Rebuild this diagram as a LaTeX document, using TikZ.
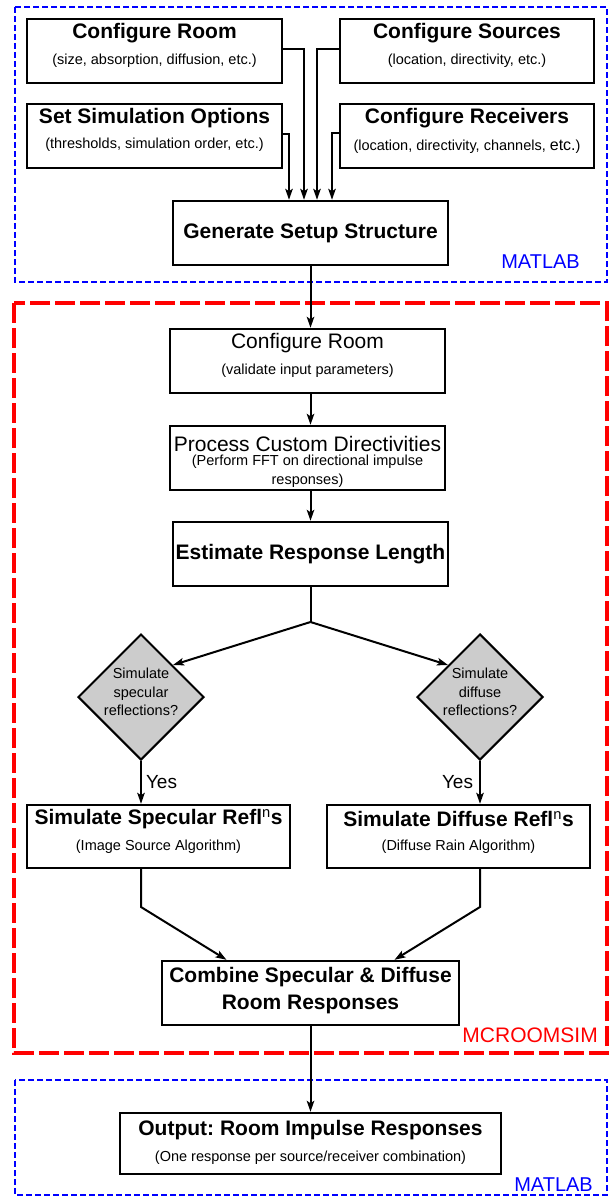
\documentclass[tikz,border=0pt]{standalone}
\usepackage{fontspec}
\setmainfont{Liberation Sans}
\usetikzlibrary{arrows.meta,shapes.geometric}
\frenchspacing
\newcommand{\ttl}{\fontsize{21}{27}\selectfont\bfseries}
\newcommand{\ttn}{\fontsize{21}{25}\selectfont}
\newcommand{\sbt}{\fontsize{14.5}{18.5}\selectfont}
\begin{document}
\begin{tikzpicture}[x=1pt,y=-1pt,
  box/.style={draw=black,line width=2.4pt,fill=white,inner sep=0pt,rectangle},
  dia/.style={draw=black,line width=2pt,fill=black!20,diamond,inner sep=0pt,minimum width=126pt,minimum height=126pt},
  conn/.style={line width=2pt},
  arr/.style={conn,-{Stealth[length=11pt,width=7.5pt,inset=2.5pt]}},
  lbl/.style={inner sep=0pt,anchor=center},
  blueframe/.style={draw=blue,line width=2pt,dash pattern=on 6pt off 3pt},
  redframe/.style={draw=red,line width=3.5pt,dash pattern=on 20pt off 5pt}]
\useasboundingbox (0,0) rectangle (612,1198);
% frames
\draw[blueframe] (15,7) rectangle (607,282);
\draw[redframe] (14,303) rectangle (607,1053);
\draw[blueframe] (15,1080) rectangle (607,1195);
\node[lbl,anchor=east,text=blue] (m1) at (580,262) {\fontsize{20}{24}\selectfont MATLAB};
\node[lbl,anchor=east,text=red] (m2) at (598,1035) {\fontsize{21}{25}\selectfont MCROOMSIM};
\node[lbl,anchor=east,text=blue] (m3) at (593,1185) {\fontsize{20}{24}\selectfont MATLAB};

% top boxes
\node[box,minimum width=255pt,minimum height=64pt] (cr) at (154.5,51) {};
\node[lbl] (crt) at (154.5,33) {\ttl Configure Room};
\node[lbl] (crs) at (154.5,61) {\sbt (size, absorption, diffusion, etc.)};
\node[box,minimum width=254pt,minimum height=64pt] (cs) at (467,51) {};
\node[lbl] (cst) at (467,33) {\ttl Configure Sources};
\node[lbl] (css) at (467,61) {\sbt (location, directivity, etc.)};
\node[box,minimum width=255pt,minimum height=64pt] (so) at (154.5,136) {};
\node[lbl] (sot) at (154.5,118) {\ttl Set Simulation Options};
\node[lbl] (sos) at (154.5,145) {\sbt (thresholds, simulation order, etc.)};
\node[box,minimum width=254pt,minimum height=64pt] (rc) at (467,136) {};
\node[lbl] (rct) at (467,118) {\ttl Configure Receivers};
\node[lbl] (rcs) at (467,147) {\sbt (location, directivity, channels, {\fontsize{16}{18}\selectfont etc.})};
\node[box,minimum width=275pt,minimum height=64pt] (gs) at (310.5,233) {\ttl Generate Setup Structure};

\draw[arr] ([yshift=2pt]so.east) -| ([xshift=-21.5pt]gs.north);
\draw[arr] ([yshift=2pt]cr.east) -| ([xshift=-6.5pt]gs.north);
\draw[arr] ([yshift=2pt]cs.west) -| ([xshift=6.5pt]gs.north);
\draw[arr] ([yshift=3pt]rc.west) -| ([xshift=21.5pt]gs.north);

% MCROOMSIM
\node[box,minimum width=275pt,minimum height=64pt] (cr2) at (307.5,361) {};
\node[lbl] (cr2t) at (307.5,343) {\ttn Configure Room};
\node[lbl] (cr2s) at (307.5,371) {\sbt (validate input parameters)};
\node[box,minimum width=275pt,minimum height=64pt] (pc) at (307.5,458) {};
\node[lbl] (pct) at (307.5,444) {\ttn Process Custom Directivities};
\node[lbl,align=center,font=\sbt] (pcs) at (307.5,471) {(Perform FFT on directional impulse\\responses)};
\node[box,minimum width=275pt,minimum height=64pt] (er) at (310.5,554) {\ttl Estimate Response Length};

\draw[arr] (gs.south) -- (gs.south |- cr2.north);
\draw[arr] (cr2.south -| gs.south) -- (gs.south |- pc.north);
\draw[arr] (pc.south -| gs.south) -- (gs.south |- er.north);

\node[dia] (ds) at (141,697) {};
\node[lbl,align=center,font=\sbt] (dst) at (141,692) {Simulate\\specular\\reflections?};
\node[dia] (dd) at (480,697) {};
\node[lbl,align=center,font=\sbt] (ddt) at (480,692) {Simulate\\diffuse\\reflections?};

\coordinate (split) at (310.5,622);
\draw[conn] (er.south) -- (split);
\draw[arr] (split) -- (ds.north east);
\draw[arr] (split) -- (dd.north west);

\node[box,minimum width=263pt,minimum height=63pt] (ss) at (158.5,836.5) {};
\node[lbl] (sst) at (158.5,819) {\ttl Simulate Specular Refl\textsuperscript{\mdseries n}s};
\node[lbl] (sss) at (158.5,847) {\sbt (Image Source Algorithm)};
\node[box,minimum width=263pt,minimum height=63pt] (sd) at (458.5,836.5) {};
\node[lbl] (sdt) at (458.5,819) {\ttl Simulate Diffuse Refl\textsuperscript{\mdseries n}s};
\node[lbl] (sds) at (458.5,847) {\sbt (Diffuse Rain Algorithm)};

\draw[arr] (ds.south) -- node[lbl,anchor=west,xshift=4pt] (y1) {\fontsize{19}{22}\selectfont Yes} (ds.south |- ss.north);
\draw[arr] (dd.south) -- node[lbl,anchor=east,xshift=-6pt] (y2) {\fontsize{19}{22}\selectfont Yes} (dd.south |- sd.north);

\node[box,minimum width=297pt,minimum height=64pt] (cb) at (310.5,993) {};
\node[lbl] (cbt1) at (310.5,977) {\ttl Combine Specular \& Diffuse};
\node[lbl] (cbt2) at (310.5,1004) {\ttl Room Responses};

\coordinate (bl) at (141,907);
\coordinate (br) at (480,907);
\draw[arr] (ds.south |- ss.south) -- (bl) -- ([xshift=-84pt]cb.north);
\draw[arr] (dd.south |- sd.south) -- (br) -- ([xshift=84pt]cb.north);

% output
\node[box,minimum width=381pt,minimum height=61pt] (out) at (310.5,1143.5) {};
\node[lbl] (outt) at (310.5,1130) {\ttl Output: Room Impulse Responses};
\node[lbl] (outs) at (310.5,1158) {\sbt (One response per source/receiver combination)};
\draw[arr] (cb.south) -- (out.north);
\end{tikzpicture}
\end{document}
